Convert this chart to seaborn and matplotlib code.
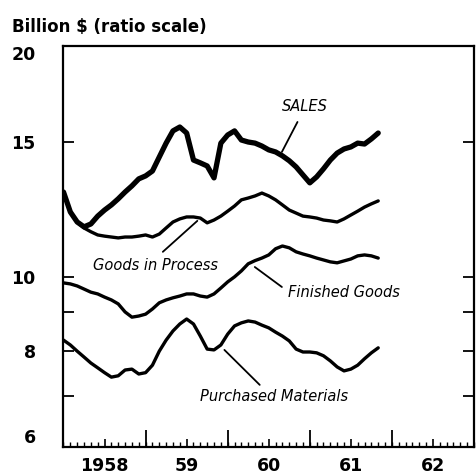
import numpy as np
import pandas as pd
import matplotlib
matplotlib.use('Agg')
import matplotlib.pyplot as plt
import seaborn as sns

# monthly, Jan 1958 .. Nov 1961 (decimal years)
months = 1958 + np.arange(47) / 12

sales = [12.9, 12.15, 11.79, 11.62, 11.72, 12.0, 12.22, 12.41, 12.64, 12.9,
         13.14, 13.42, 13.54, 13.74, 14.33, 14.94, 15.5, 15.68, 15.40, 14.2,
         14.08, 13.95, 13.46, 14.94, 15.31, 15.50, 15.08, 14.99, 14.94, 14.81,
         14.64, 14.55, 14.38, 14.17, 13.91, 13.58, 13.26, 13.50, 13.83, 14.20,
         14.50, 14.68, 14.77, 14.94, 14.90, 15.13, 15.40]
goods_in_process = [12.86, 12.15, 11.79, 11.58, 11.45, 11.34, 11.30, 11.27, 11.24, 11.27,
                    11.27, 11.30, 11.34, 11.27, 11.37, 11.58, 11.79, 11.90, 11.97, 11.97,
                    11.93, 11.76, 11.86, 12.0, 12.18, 12.37, 12.6, 12.67, 12.75, 12.86,
                    12.75, 12.6, 12.41, 12.22, 12.11, 12.0, 11.97, 11.93, 11.86, 11.83,
                    11.79, 11.90, 12.04, 12.18, 12.33, 12.45, 12.56]
finished_goods = [9.82, 9.79, 9.73, 9.64, 9.55, 9.50, 9.41, 9.33, 9.22, 9.0,
                  8.86, 8.89, 8.94, 9.08, 9.25, 9.33, 9.39, 9.44, 9.50, 9.50,
                  9.44, 9.41, 9.50, 9.67, 9.85, 10.0, 10.18, 10.40, 10.5, 10.58,
                  10.68, 10.88, 10.97, 10.91, 10.78, 10.71, 10.65, 10.58, 10.52, 10.46,
                  10.43, 10.49, 10.55, 10.65, 10.68, 10.65, 10.58]
purchased_materials = [8.27, 8.15, 8.0, 7.86, 7.72, 7.61, 7.50, 7.40, 7.43, 7.56,
                       7.58, 7.47, 7.50, 7.67, 8.0, 8.27, 8.5, 8.68, 8.81, 8.68,
                       8.37, 8.05, 8.03, 8.15, 8.42, 8.63, 8.71, 8.76, 8.73, 8.65,
                       8.58, 8.47, 8.37, 8.25, 8.05, 7.98, 7.98, 7.96, 7.89, 7.77,
                       7.63, 7.54, 7.58, 7.67, 7.82, 7.96, 8.08]

year_labels = ['1958', '59', '60', '61', '62']
y_labels = ['6', '8', '10', '15', '20']

df = pd.DataFrame({'month': months, 'SALES': sales,
                   'Goods in Process': goods_in_process,
                   'Finished Goods': finished_goods,
                   'Purchased Materials': purchased_materials})
long = df.melt(id_vars='month', var_name='series', value_name='value')

sns.set_style('ticks')
plt.rcParams['font.family'] = ['DejaVu Sans']
plt.rcParams['text.color'] = 'black'
plt.rcParams['xtick.color'] = 'black'
plt.rcParams['ytick.color'] = 'black'
plt.rcParams['axes.edgecolor'] = 'black'

fig = plt.figure(figsize=(4.76, 4.74), dpi=100)
ax = fig.add_axes([0.1334, 0.057, 0.8624, 0.846])

widths = {'SALES': 3.8, 'Goods in Process': 2.4,
          'Finished Goods': 2.4, 'Purchased Materials': 2.4}
for name, lw in widths.items():
    sns.lineplot(data=long[long.series == name], x='month', y='value',
                 color='black', linewidth=lw, legend=False, ax=ax,
                 solid_capstyle='round', solid_joinstyle='round')

ax.set_yscale('log')
ax.set_ylim(6, 20)
ax.set_xlim(1958, 1963)
ax.set_xlabel('')
ax.set_ylabel('')

# y axis
ax.yaxis.set_major_locator(matplotlib.ticker.FixedLocator([6, 8, 10, 15, 20]))
ax.yaxis.set_minor_locator(matplotlib.ticker.FixedLocator([7, 9]))
ax.set_yticklabels(y_labels)
ax.yaxis.set_minor_formatter(matplotlib.ticker.NullFormatter())
ax.tick_params(axis='y', which='both', direction='in', length=8, width=1.3,
               left=True, right=True, pad=20, labelcolor='black')
ylabs = ax.get_yticklabels()
for lab in ylabs:
    lab.set_fontweight('bold')
    lab.set_fontsize(12.5)
ylabs[0].set_va('bottom')
ylabs[-1].set_va('top')

# x axis: labels at mid-year, monthly minor ticks
ax.set_xticks([1958.5, 1959.5, 1960.5, 1961.5, 1962.5])
ax.set_xticklabels(year_labels, fontweight='bold', fontsize=12.5)
ax.xaxis.set_minor_locator(matplotlib.ticker.MultipleLocator(1 / 12))
ax.tick_params(axis='x', which='major', direction='in', length=6, width=1.2,
               pad=7, labelcolor='black')
ax.tick_params(axis='x', which='minor', direction='in', length=3.5, width=1.0)

sec = ax.secondary_xaxis('bottom')
sec.set_xticks([1959, 1960, 1961, 1962])
sec.set_xticklabels([])
sec.tick_params(direction='in', length=12, width=1.3, color='black')
sec.spines['bottom'].set_visible(False)

for s in ax.spines.values():
    s.set_linewidth(1.6)
    s.set_color('black')

# labels and leader lines
txt = dict(fontsize=10.5, fontstyle='italic', color='black')
ax.text(1960.94, 16.7, 'SALES', ha='center', va='center', **txt)
ax.plot([1960.85, 1960.66], [15.92, 14.55], color='black', lw=1.3)
ax.text(1959.12, 10.36, 'Goods in Process', ha='center', va='center', **txt)
ax.plot([1959.21, 1959.63], [10.78, 11.83], color='black', lw=1.3)
ax.text(1960.73, 9.53, 'Finished Goods', ha='left', va='center', **txt)
ax.plot([1960.66, 1960.33], [9.70, 10.30], color='black', lw=1.3)
ax.text(1960.56, 6.99, 'Purchased Materials', ha='center', va='center', **txt)
ax.plot([1960.39, 1959.96], [7.23, 8.03], color='black', lw=1.3)

fig.text(0.025, 0.943, 'Billion \\$ (ratio scale)', fontweight='bold',
         fontsize=12, ha='left', va='center', color='black')

fig.savefig('out.png', dpi=100)
